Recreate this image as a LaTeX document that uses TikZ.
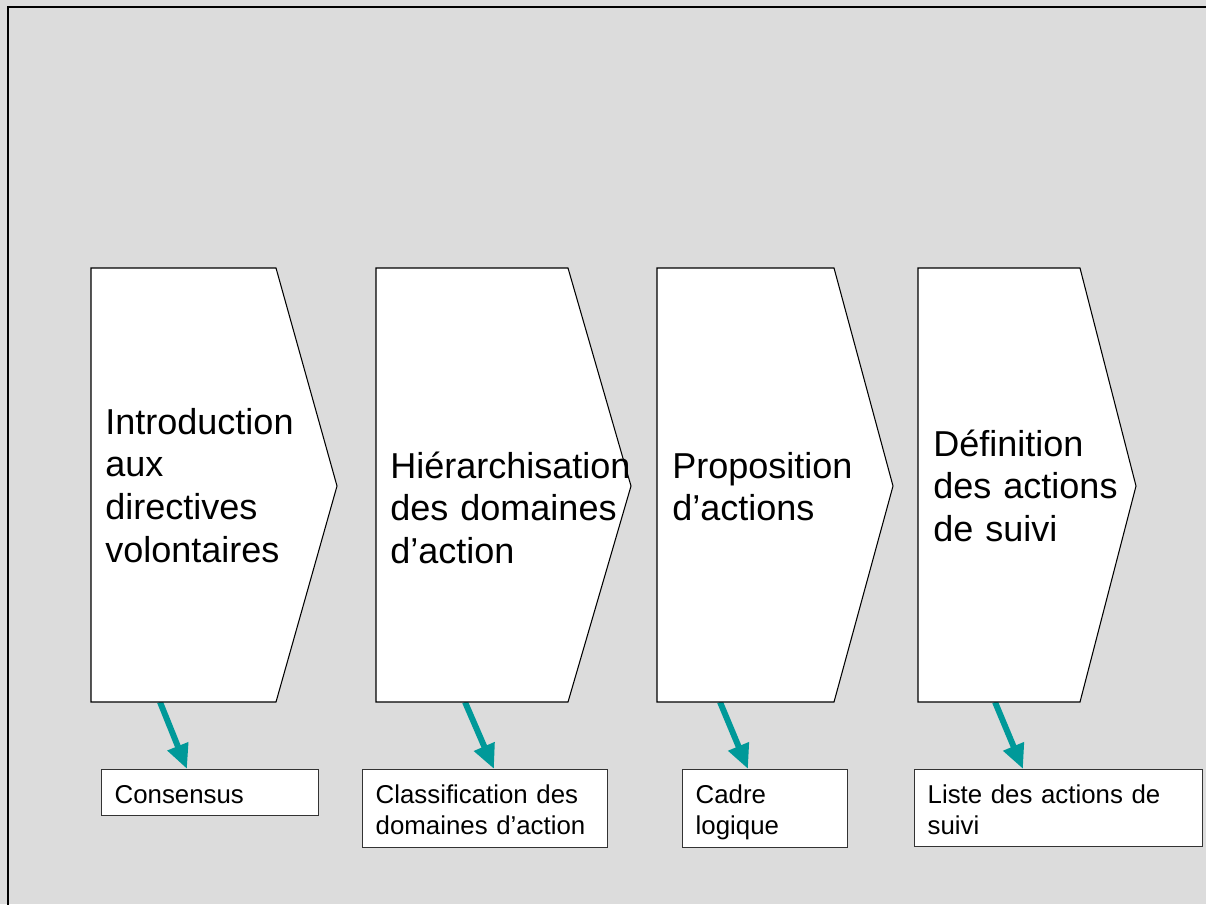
\documentclass[tikz,border=0pt]{standalone}
\usepackage{fontspec}
\setmainfont{Liberation Sans}
\usepackage{xcolor}
\usepackage{tikz}
\usetikzlibrary{arrows.meta, calc}
\definecolor{bggray}{HTML}{DCDCDC}
\definecolor{flowteal}{HTML}{009999}
\newdimen\pxu \pxu=0.02cm

\begin{document}
\begin{tikzpicture}[x=0.02cm, y=-0.02cm,
    chevron/.style={draw=black, fill=white, line width=0.6pt},
    steptext/.style={anchor=base west, inner sep=0pt, text width=300\pxu, align=left,
        font=\fontsize{20.5}{24.4}\selectfont},
    outbox/.style={draw=black!80, fill=white, line width=0.8pt, anchor=north west,
        inner xsep=13\pxu, inner ysep=0pt, text height=34\pxu, align=left,
        font=\fontsize{14.7}{17.6}\selectfont},
    flow/.style={draw=flowteal, line width=3.4pt, -{Triangle[length=14pt, width=12pt]}}]

    \clip (0,0) rectangle (1206,904);
    \fill[bggray] (0,0) rectangle (1206,904);
    \draw[line width=1.3pt] (8,7) rectangle (1230,930);

    % results
    \node[outbox, text width=191\pxu, text depth=12\pxu] (out1) at (101,769) {Consensus};
    \node[outbox, text width=219\pxu, text depth=44\pxu] (out2) at (362,769) {Classification des\\domaines d’action};
    \node[outbox, text width=139\pxu, text depth=44\pxu] (out3) at (682,769) {Cadre\\logique};
    \node[outbox, text width=262\pxu, text depth=43\pxu] (out4) at (914,769) {Liste des actions de\\suivi};

    \coordinate (s1) at (160,702);
    \coordinate (s2) at (465,702);
    \coordinate (s3) at (720,702);
    \coordinate (s4) at (995,702);

    \draw[flow] (s1) -- ($(out1.north west)+(86,0)$);
    \draw[flow] (s2) -- ($(out2.north west)+(132,0)$);
    \draw[flow] (s3) -- ($(out3.north west)+(66,0)$);
    \draw[flow] (s4) -- ($(out4.north west)+(109,0)$);

    % steps
    \draw[chevron] (91,268) -- (276,268) -- (337,486) -- (276,702) -- (91,702) -- cycle;
    \draw[chevron] (376,268) -- (568,268) -- (631,486) -- (568,702) -- (376,702) -- cycle;
    \draw[chevron] (657,268) -- (834,268) -- (893,486) -- (834,702) -- (657,702) -- cycle;
    \draw[chevron] (918,268) -- (1080,268) -- (1136,486) -- (1080,702) -- (918,702) -- cycle;

    \node[steptext] (step1) at (105,434) {Introduction\\aux\\directives\\volontaires};
    \node[steptext] (step2) at (390,478) {Hiérarchisation\\des domaines\\d’action};
    \node[steptext] (step3) at (672,478) {Proposition\\d’actions};
    \node[steptext] (step4) at (933,456) {Définition\\des actions\\de suivi};

\end{tikzpicture}
\end{document}
